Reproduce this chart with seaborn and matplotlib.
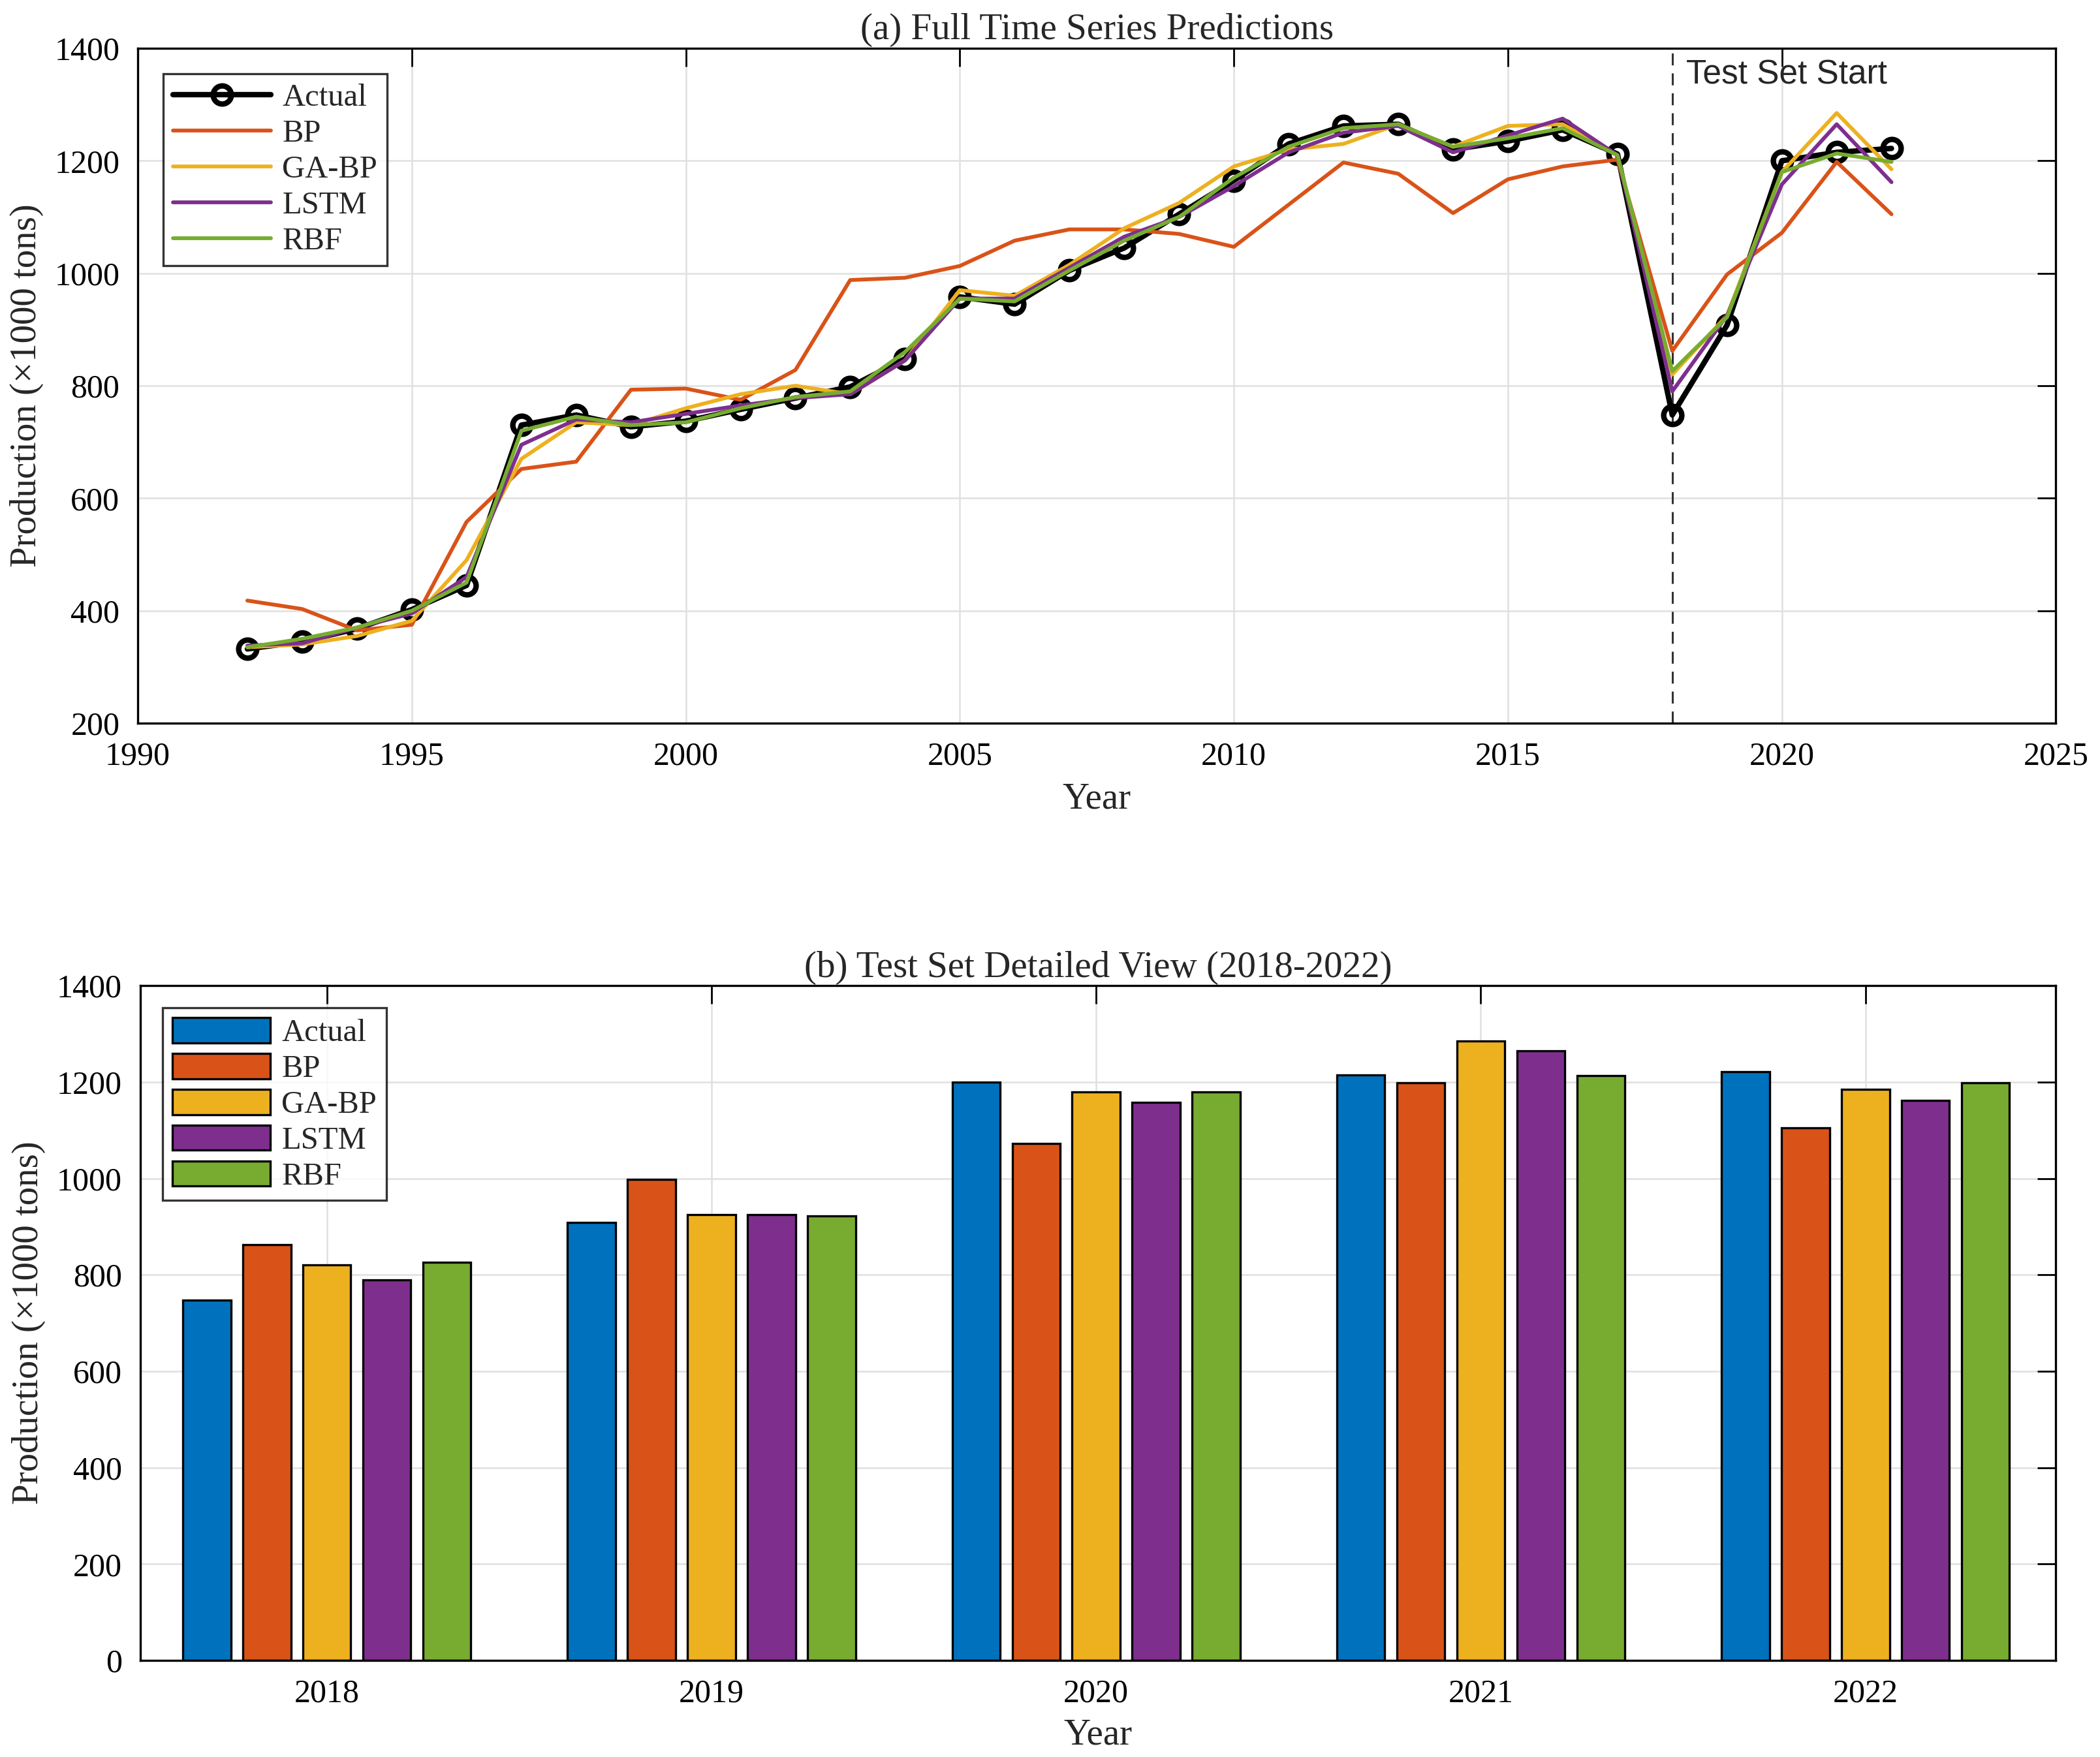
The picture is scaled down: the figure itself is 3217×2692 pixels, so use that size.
import numpy as np
import pandas as pd
import matplotlib
matplotlib.use("Agg")
import matplotlib.pyplot as plt
import seaborn as sns

# data
years = list(range(1992, 2023))
actual = [332, 345, 368, 402, 445, 730, 748, 727, 737, 758, 778, 798, 848, 958, 945,
          1005, 1045, 1105, 1165, 1230, 1262, 1265, 1220, 1235, 1255, 1212,
          748, 908, 1200, 1215, 1222]
bp = [418, 403, 365, 375, 558, 652, 665, 793, 795, 775, 828, 988, 992, 1013, 1058,
      1078, 1078, 1070, 1047, 1122, 1197, 1177, 1107, 1167, 1190, 1202,
      862, 998, 1072, 1198, 1105]
ga_bp = [335, 340, 355, 382, 490, 670, 735, 730, 760, 785, 800, 785, 845, 970, 960,
         1015, 1080, 1125, 1190, 1220, 1230, 1265, 1225, 1262, 1265, 1210,
         820, 925, 1180, 1285, 1185]
lstm = [338, 342, 370, 395, 460, 695, 740, 735, 750, 765, 778, 785, 845, 955, 955,
        1010, 1065, 1100, 1155, 1215, 1250, 1262, 1215, 1245, 1275, 1210,
        790, 925, 1158, 1265, 1162]
rbf = [335, 350, 370, 400, 450, 720, 745, 730, 735, 760, 780, 790, 860, 955, 950,
       1005, 1058, 1100, 1170, 1225, 1258, 1265, 1225, 1240, 1258, 1210,
       826, 922, 1180, 1213, 1198]

models = ['Actual', 'BP', 'GA-BP', 'LSTM', 'RBF']
colors = ['#0072BD', '#D95319', '#EDB120', '#7E2F8E', '#77AC30']
test_start = 2018

sns.set_style("white")
plt.rcParams['font.family'] = ['Liberation Serif', 'DejaVu Serif']

fig = plt.figure(figsize=(16.085, 13.46), dpi=200)

TICK_FS = 18
LABEL_FS = 20.5
TITLE_FS = 20.5
LEG_FS = 17.5


def matlab_axes(ax):
    for s in ax.spines.values():
        s.set_color('black')
        s.set_linewidth(1.2)
    ax.tick_params(direction='in', length=10, width=1.0, labelsize=TICK_FS,
                   top=True, right=True, pad=10, colors='black')
    ax.grid(True, color='#e0e0e0', linewidth=0.9)
    ax.set_axisbelow(True)


# (a) full time series
ax1 = fig.add_axes([0.0656, 0.5884, 0.9134, 0.3841])
df_line = pd.DataFrame({'Year': years, 'Actual': actual, 'BP': bp,
                        'GA-BP': ga_bp, 'LSTM': lstm, 'RBF': rbf})
sns.lineplot(data=df_line, x='Year', y='Actual', ax=ax1, color='black', linewidth=3.0,
             marker='o', markersize=10, markerfacecolor='none', markeredgecolor='black',
             markeredgewidth=3.0, label='Actual', zorder=3)
for m, c in zip(models[1:], colors[1:]):
    sns.lineplot(data=df_line, x='Year', y=m, ax=ax1, color=c, linewidth=2.1,
                 label=m, zorder=4)
ax1.axvline(test_start, color='#333333', linestyle=(0, (6, 4)), linewidth=1.1)
ax1.text(test_start + 0.25, 1352, 'Test Set Start', fontsize=18.5,
         family=['Liberation Sans', 'DejaVu Sans'], color='#262626', va='center')
ax1.set_xlim(1990, 2025)
ax1.set_ylim(200, 1400)
ax1.set_xticks(range(1990, 2026, 5))
ax1.set_yticks(range(200, 1401, 200))
matlab_axes(ax1)
ax1.set_title('(a) Full Time Series Predictions', fontsize=TITLE_FS, pad=5)
ax1.set_xlabel('Year', fontsize=LABEL_FS, labelpad=6)
ax1.set_ylabel('Production (×1000 tons)', fontsize=LABEL_FS, labelpad=6)
leg1 = ax1.legend(loc='upper left', fontsize=LEG_FS, frameon=True, fancybox=False,
                  edgecolor='black', handlelength=3.1, handletextpad=0.35,
                  borderpad=0.3, labelspacing=0.23, borderaxespad=0.8)
leg1.get_frame().set_linewidth(1.2)

# (b) test set bars
test_years = [2018, 2019, 2020, 2021, 2022]
n_test = len(test_years)
bar_df = pd.DataFrame({
    'Year': np.tile(test_years, len(models)),
    'Model': np.repeat(models, n_test),
    'Value': actual[-n_test:] + bp[-n_test:] + ga_bp[-n_test:] + lstm[-n_test:] + rbf[-n_test:],
})
ax2 = fig.add_axes([0.0668, 0.055, 0.9122, 0.384])
sns.barplot(data=bar_df, x='Year', y='Value', hue='Model', hue_order=models,
            palette=colors, ax=ax2, width=0.78, gap=0.2, edgecolor='black',
            linewidth=1.2, errorbar=None, saturation=1)
ax2.set_xlim(-0.485, 4.495)
ax2.set_ylim(0, 1400)
ax2.set_yticks(range(0, 1401, 200))
matlab_axes(ax2)
ax2.set_title('(b) Test Set Detailed View (2018-2022)', fontsize=TITLE_FS, pad=5)
ax2.set_xlabel('Year', fontsize=LABEL_FS, labelpad=5)
ax2.set_ylabel('Production (×1000 tons)', fontsize=LABEL_FS, labelpad=6)
leg2 = ax2.legend(loc='upper left', fontsize=LEG_FS, frameon=True, fancybox=False,
                  edgecolor='black', handlelength=3.1, handleheight=0.85,
                  handletextpad=0.35, borderpad=0.3, labelspacing=0.18,
                  borderaxespad=0.7)
leg2.get_frame().set_linewidth(1.2)
for p in leg2.get_patches():
    p.set_edgecolor('black')

fig.savefig('out.png', dpi=200)
